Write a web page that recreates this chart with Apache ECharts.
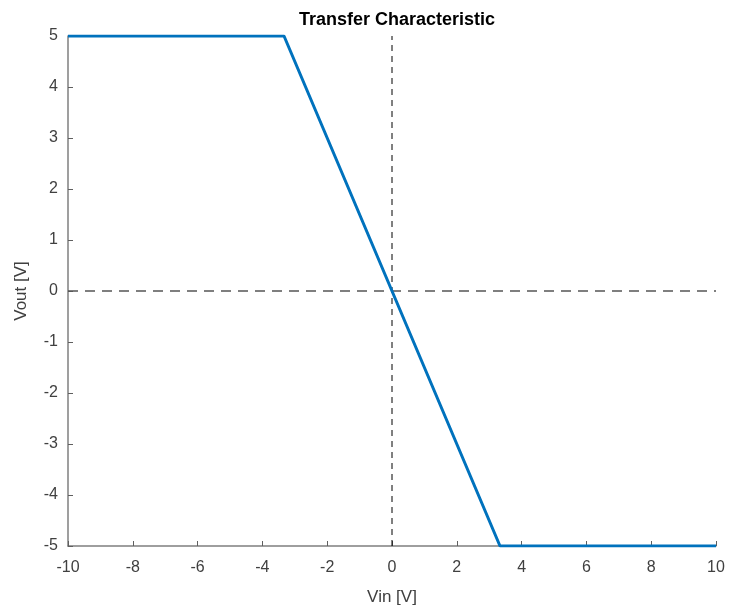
<!DOCTYPE html>
<html><head><meta charset="utf-8">
<script src="https://cdn.jsdelivr.net/npm/echarts@6/dist/echarts.min.js"></script>
<style>html,body{margin:0;padding:0;background:#fff}#c{width:730px;height:612px}</style>
</head><body><div id="c"></div>
<script>
const vin = [-10, -3.333, 3.333, 10];
const vout = [5, 5, -5, -5];
const xTicks = [-10, -8, -6, -4, -2, 0, 2, 4, 6, 8, 10];
const yTicks = [-5, -4, -3, -2, -1, 0, 1, 2, 3, 4, 5];
const vRefX = [0, 0], vRefY = [-5, 5];
const hRefX = [-10, 10], hRefY = [0, 0];

const chart = echarts.init(document.getElementById('c'));
const axisCommon = {
  axisLine: {show: true, onZero: false, lineStyle: {color: '#7f7f7f', width: 1.5}},
  axisTick: {show: true, inside: true, length: 5, lineStyle: {color: '#5f5f5f'}},
  axisLabel: {color: '#404040', fontSize: 16, fontFamily: 'Liberation Sans, Arial'},
  splitLine: {show: false},
  nameTextStyle: {color: '#404040', fontSize: 17, fontFamily: 'Liberation Sans, Arial'}
};
chart.setOption({
  animation: false,
  title: {text: 'Transfer Characteristic', left: 392, top: 6, textAlign: 'center',
    textStyle: {fontSize: 18, fontWeight: 'bold', color: '#000', fontFamily: 'Liberation Sans, Arial'}},
  grid: {left: 68, right: 14, top: 36, bottom: 66},
  xAxis: Object.assign({type: 'value', min: -10, max: 10, interval: 2, name: 'Vin [V]',
    nameLocation: 'middle', nameGap: 43}, axisCommon,
    {axisLabel: Object.assign({}, axisCommon.axisLabel, {margin: 14})}),
  yAxis: Object.assign({type: 'value', min: -5, max: 5, interval: 1, name: 'Vout [V]',
    nameLocation: 'middle', nameGap: 38}, axisCommon,
    {axisLabel: Object.assign({}, axisCommon.axisLabel, {margin: 10})}),
  series: [
    {type: 'line', data: hRefX.map((x, i) => [x, hRefY[i]]), symbol: 'none', z: 1,
      lineStyle: {color: '#555', width: 1.5, type: [10, 7]}},
    {type: 'line', data: vRefX.map((x, i) => [x, vRefY[i]]), symbol: 'none', z: 1,
      lineStyle: {color: '#000', width: 1, type: [6, 5]}},
    {type: 'line', data: vin.map((x, i) => [x, vout[i]]), symbol: 'none', z: 3,
      lineStyle: {color: '#0072BD', width: 3}}
  ]
});
</script></body></html>
